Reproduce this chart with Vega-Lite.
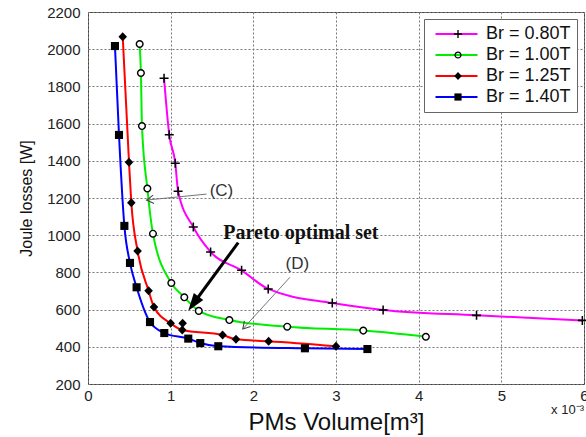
{
  "$schema": "https://vega.github.io/schema/vega-lite/v6.json",
  "width": 496,
  "height": 372,
  "autosize": {"type": "none"},
  "padding": {"left": 88, "top": 12, "right": 2, "bottom": 53},
  "background": "white",
  "config": {
    "font": "Liberation Sans",
    "view": {"stroke": "#444", "strokeWidth": 1},
    "axis": {
      "grid": true,
      "gridColor": "#777",
      "gridDash": [2, 2],
      "gridWidth": 1,
      "ticks": false,
      "domain": false,
      "labelFlush": false,
      "labelOverlap": false,
      "labelFont": "Liberation Sans",
      "labelFontSize": 15,
      "labelColor": "#222",
      "titleFont": "Liberation Sans",
      "titleFontWeight": "normal",
      "titleColor": "#111"
    }
  },
  "datasets": {
    "curves": [
      {"series": "Br = 0.80T", "volume": 0.92, "loss": 1844},
      {"series": "Br = 0.80T", "volume": 0.983, "loss": 1540},
      {"series": "Br = 0.80T", "volume": 1.056, "loss": 1387},
      {"series": "Br = 0.80T", "volume": 1.09, "loss": 1236},
      {"series": "Br = 0.80T", "volume": 1.274, "loss": 1044},
      {"series": "Br = 0.80T", "volume": 1.483, "loss": 910},
      {"series": "Br = 0.80T", "volume": 1.858, "loss": 811},
      {"series": "Br = 0.80T", "volume": 2.18, "loss": 711},
      {"series": "Br = 0.80T", "volume": 2.955, "loss": 635},
      {"series": "Br = 0.80T", "volume": 3.57, "loss": 598},
      {"series": "Br = 0.80T", "volume": 4.7, "loss": 569},
      {"series": "Br = 0.80T", "volume": 5.98, "loss": 542},
      {"series": "Br = 1.00T", "volume": 0.625, "loss": 2028},
      {"series": "Br = 1.00T", "volume": 0.64, "loss": 1872},
      {"series": "Br = 1.00T", "volume": 0.653, "loss": 1587},
      {"series": "Br = 1.00T", "volume": 0.718, "loss": 1251},
      {"series": "Br = 1.00T", "volume": 0.786, "loss": 1008},
      {"series": "Br = 1.00T", "volume": 1.008, "loss": 743},
      {"series": "Br = 1.00T", "volume": 1.165, "loss": 666},
      {"series": "Br = 1.00T", "volume": 1.34, "loss": 593},
      {"series": "Br = 1.00T", "volume": 1.71, "loss": 544},
      {"series": "Br = 1.00T", "volume": 2.41, "loss": 508},
      {"series": "Br = 1.00T", "volume": 3.33, "loss": 487},
      {"series": "Br = 1.00T", "volume": 4.087, "loss": 454},
      {"series": "Br = 1.25T", "volume": 0.42, "loss": 2067},
      {"series": "Br = 1.25T", "volume": 0.496, "loss": 1392},
      {"series": "Br = 1.25T", "volume": 0.524, "loss": 1175},
      {"series": "Br = 1.25T", "volume": 0.6, "loss": 915},
      {"series": "Br = 1.25T", "volume": 0.733, "loss": 702},
      {"series": "Br = 1.25T", "volume": 0.798, "loss": 614},
      {"series": "Br = 1.25T", "volume": 1.0, "loss": 526},
      {"series": "Br = 1.25T", "volume": 1.145, "loss": 526, "on_curve": false},
      {"series": "Br = 1.25T", "volume": 1.14, "loss": 490},
      {"series": "Br = 1.25T", "volume": 1.628, "loss": 463},
      {"series": "Br = 1.25T", "volume": 1.79, "loss": 440},
      {"series": "Br = 1.25T", "volume": 2.185, "loss": 430},
      {"series": "Br = 1.25T", "volume": 3.0, "loss": 403},
      {"series": "Br = 1.40T", "volume": 0.326, "loss": 2017},
      {"series": "Br = 1.40T", "volume": 0.375, "loss": 1539},
      {"series": "Br = 1.40T", "volume": 0.44, "loss": 1050},
      {"series": "Br = 1.40T", "volume": 0.508, "loss": 851},
      {"series": "Br = 1.40T", "volume": 0.588, "loss": 720},
      {"series": "Br = 1.40T", "volume": 0.75, "loss": 533},
      {"series": "Br = 1.40T", "volume": 0.923, "loss": 474},
      {"series": "Br = 1.40T", "volume": 1.213, "loss": 444},
      {"series": "Br = 1.40T", "volume": 1.358, "loss": 420},
      {"series": "Br = 1.40T", "volume": 1.576, "loss": 403},
      {"series": "Br = 1.40T", "volume": 2.624, "loss": 392},
      {"series": "Br = 1.40T", "volume": 3.38, "loss": 388}
    ],
    "notes": [
      {"label": "(C)", "x": 1.614, "y": 1235},
      {"label": "(D)", "x": 2.533, "y": 845},
      {"label": "Pareto optimal set", "x": 2.576, "y": 1014}
    ],
    "arrows": [
      {"label": "(C)", "x": 1.434, "y": 1221, "x2": 0.709, "y2": 1189},
      {"label": "(D)", "x": 2.443, "y": 774, "x2": 1.873, "y2": 496},
      {"label": "Pareto optimal set", "x": 1.817, "y": 960, "x2": 1.245, "y2": 614}
    ]
  },
  "layer": [
    {
      "data": {"name": "curves"},
      "transform": [{"filter": "datum.on_curve !== false"}],
      "mark": {"type": "line", "interpolate": "monotone", "strokeWidth": 2},
      "encoding": {
        "x": {
          "field": "volume", "type": "quantitative",
          "scale": {"domain": [0, 6], "nice": false, "zero": false},
          "axis": {"values": [0, 1, 2, 3, 4, 5, 6], "tickCount": 7, "format": "d", "labelOverlap": false, "labelPadding": 4, "title": "PMs Volume[m³]", "titleFontSize": 24, "titlePadding": 7}
        },
        "y": {
          "field": "loss", "type": "quantitative",
          "scale": {"domain": [200, 2200], "nice": false, "zero": false},
          "axis": {"values": [200, 400, 600, 800, 1000, 1200, 1400, 1600, 1800, 2000, 2200], "tickCount": 11, "format": "d", "labelOverlap": false, "labelPadding": 8, "title": "Joule losses [W]", "titleFontSize": 16, "titlePadding": 12}
        },
        "color": {
          "field": "series", "type": "nominal",
          "scale": {"range": ["#ff00ff", "#00ee00", "#ff0000", "#0000ff"]},
          "legend": {
            "orient": "none", "legendX": 336, "legendY": 7, "title": null,
            "symbolType": "M-0.7,0H7.7", "symbolSize": 100, "symbolStrokeWidth": 2,
            "labelFont": "Liberation Sans", "labelFontSize": 18, "labelColor": "#111",
            "labelOffset": 38, "rowPadding": 3, "padding": 6,
            "strokeColor": "#666", "fillColor": "white",
            "labelExpr": "datum.label + '\u00a0\u00a0\u00a0\u00a0\u00a0\u00a0'"
          }
        }
      }
    },
    {
      "data": {"name": "curves"},
      "transform": [{"filter": "datum.series === 'Br = 1.00T'"}],
      "mark": {"type": "point", "shape": "circle", "filled": true, "fill": "white", "opacity": 1, "size": 45, "strokeWidth": 0},
      "encoding": {
        "x": {"field": "volume", "type": "quantitative"},
        "y": {"field": "loss", "type": "quantitative"}
      }
    },
    {
      "data": {"name": "curves"},
      "mark": {"type": "point", "filled": true, "fill": "black", "opacity": 1, "size": 81, "strokeWidth": 0},
      "encoding": {
        "x": {"field": "volume", "type": "quantitative"},
        "y": {"field": "loss", "type": "quantitative"},
        "shape": {
          "field": "series", "type": "nominal",
          "scale": {
            "domain": ["Br = 0.80T", "Br = 1.00T", "Br = 1.25T", "Br = 1.40T"],
            "range": [
              "M-1,-0.17H-0.17V-1H0.17V-0.17H1V0.17H0.17V1H-0.17V0.17H-1Z",
              "M-0.9,0A0.9,0.9,0,1,0,0.9,0A0.9,0.9,0,1,0,-0.9,0ZM-0.58,0A0.58,0.58,0,1,1,0.58,0A0.58,0.58,0,1,1,-0.58,0Z",
              "M0,-1L0.95,0L0,1L-0.95,0Z",
              "M-0.9,-0.9H0.9V0.9H-0.9Z"
            ]
          },
          "legend": {
            "orient": "none", "legendX": 361, "legendY": 13, "title": null,
            "values": ["Br = 0.80T", "Br = 1.00T", "Br = 1.25T", "Br = 1.40T"],
            "symbolSize": 64, "symbolFillColor": "black", "symbolStrokeColor": "black",
            "symbolStrokeWidth": 0, "symbolOpacity": 1,
            "labelFont": "Liberation Sans", "labelFontSize": 18,
            "labelExpr": "''",
            "rowPadding": 3, "padding": 0
          }
        }
      }
    },
    {
      "data": {"name": "arrows"},
      "transform": [{"filter": "datum.label !== 'Pareto optimal set'"}],
      "mark": {"type": "rule", "stroke": "#666", "strokeWidth": 0.9},
      "encoding": {
        "x": {"field": "x", "type": "quantitative"},
        "y": {"field": "y", "type": "quantitative"},
        "x2": {"field": "x2"},
        "y2": {"field": "y2"}
      }
    },
    {
      "data": {"name": "arrows"},
      "transform": [{"filter": "datum.label === 'Pareto optimal set'"}],
      "mark": {"type": "rule", "stroke": "black", "strokeWidth": 3},
      "encoding": {
        "x": {"field": "x", "type": "quantitative"},
        "y": {"field": "y", "type": "quantitative"},
        "x2": {"field": "x2"},
        "y2": {"field": "y2"}
      }
    },
    {
      "data": {"name": "arrows"},
      "transform": [{"filter": "datum.label === '(C)'"}],
      "mark": {"type": "point", "shape": "M-1,-0.6L0,0L-1,0.6", "filled": false, "stroke": "#444", "strokeWidth": 1.1, "opacity": 1, "size": 196, "angle": 174},
      "encoding": {
        "x": {"field": "x2", "type": "quantitative"},
        "y": {"field": "y2", "type": "quantitative"}
      }
    },
    {
      "data": {"name": "arrows"},
      "transform": [{"filter": "datum.label === '(D)'"}],
      "mark": {"type": "point", "shape": "M-1,-0.6L0,0L-1,0.6", "filled": false, "stroke": "#444", "strokeWidth": 1.1, "opacity": 1, "size": 196, "angle": 132},
      "encoding": {
        "x": {"field": "x2", "type": "quantitative"},
        "y": {"field": "y2", "type": "quantitative"}
      }
    },
    {
      "data": {"name": "arrows"},
      "transform": [{"filter": "datum.label === 'Pareto optimal set'"}],
      "mark": {"type": "point", "shape": "M0.35,0L-1,-0.45L-1,0.45Z", "filled": true, "fill": "black", "strokeWidth": 0, "opacity": 1, "size": 676, "angle": 126},
      "encoding": {
        "x": {"field": "x2", "type": "quantitative"},
        "y": {"field": "y2", "type": "quantitative"}
      }
    },
    {
      "data": {"name": "notes"},
      "transform": [{"filter": "datum.label !== 'Pareto optimal set'"}],
      "mark": {"type": "text", "font": "Liberation Sans", "fontSize": 17, "color": "#333", "align": "center", "baseline": "middle"},
      "encoding": {
        "x": {"field": "x", "type": "quantitative"},
        "y": {"field": "y", "type": "quantitative"},
        "text": {"field": "label"}
      }
    },
    {
      "data": {"name": "notes"},
      "transform": [{"filter": "datum.label === 'Pareto optimal set'"}],
      "mark": {"type": "text", "font": "Liberation Serif", "fontWeight": "bold", "fontSize": 20, "color": "#111", "align": "center", "baseline": "middle"},
      "encoding": {
        "x": {"field": "x", "type": "quantitative"},
        "y": {"field": "y", "type": "quantitative"},
        "text": {"field": "label"}
      }
    },
    {
      "data": {"values": [{"factor": "x 10⁻³"}]},
      "mark": {"type": "text", "font": "Liberation Sans", "fontSize": 13, "color": "#222", "align": "right", "baseline": "alphabetic", "dy": 30},
      "encoding": {
        "x": {"datum": 6, "type": "quantitative"},
        "y": {"datum": 200, "type": "quantitative"},
        "text": {"field": "factor"}
      }
    }
  ]
}
